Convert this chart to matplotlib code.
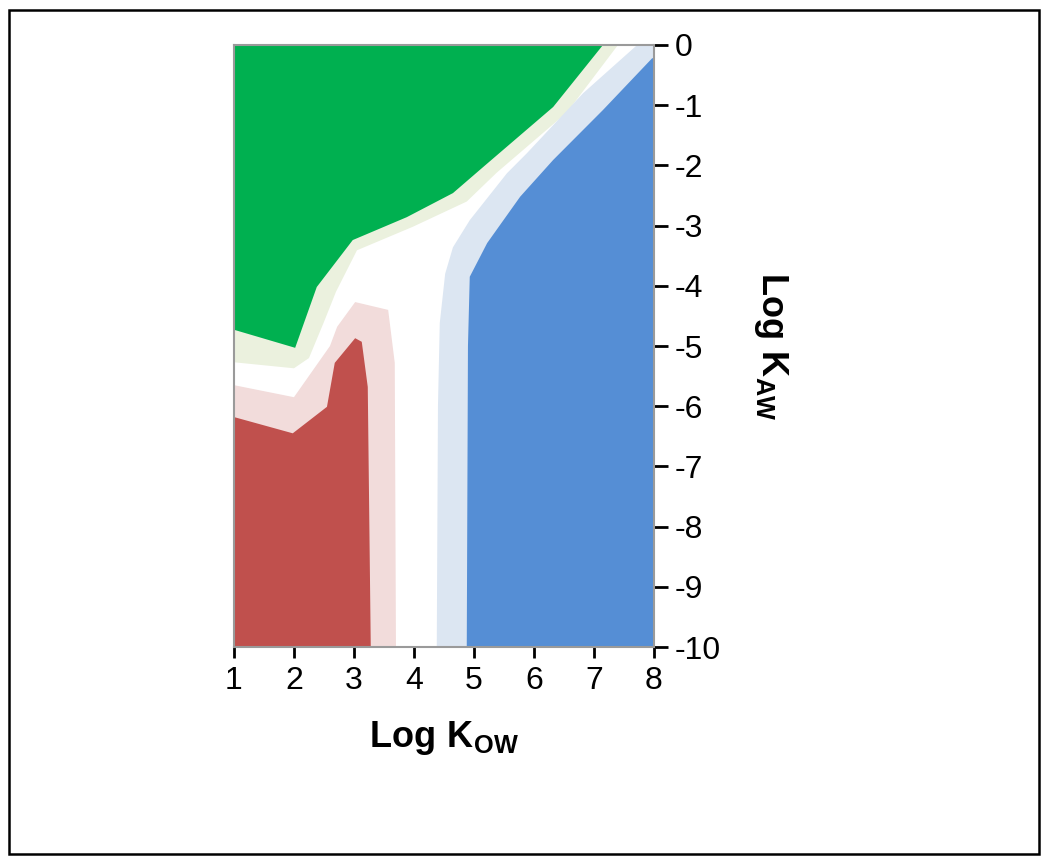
import numpy as np
import matplotlib.pyplot as plt
import matplotlib.patches as mpatches

plt.rcParams['font.family'] = ['Liberation Sans', 'DejaVu Sans']
plt.rcParams['mathtext.fontset'] = 'custom'
plt.rcParams['mathtext.rm'] = 'Liberation Sans'
plt.rcParams['mathtext.bf'] = 'Liberation Sans:bold'

# axis ranges
x_ticks = [1, 2, 3, 4, 5, 6, 7, 8]
y_ticks = [0, -1, -2, -3, -4, -5, -6, -7, -8, -9, -10]

# region boundaries (Log Kow, Log Kaw)
green_band_x = [1.0, 2.0, 2.25, 2.5, 2.7, 3.05, 3.98, 4.88, 5.38, 6.55, 7.4]
green_band_y = [-5.27, -5.37, -5.2, -4.6, -4.1, -3.41, -3.02, -2.6, -2.12, -1.12, 0.0]
green_x = [1.0, 2.02, 2.38, 2.98, 3.88, 4.65, 5.15, 6.32, 7.15]
green_y = [-4.73, -5.03, -4.02, -3.24, -2.86, -2.46, -2.03, -1.03, 0.0]

red_band_x = [1.0, 2.0, 2.6, 2.72, 3.02, 3.57, 3.68, 3.70]
red_band_y = [-5.65, -5.85, -5.0, -4.68, -4.27, -4.40, -5.28, -10.0]
red_x = [1.0, 1.98, 2.55, 2.68, 3.02, 3.13, 3.23, 3.28]
red_y = [-6.18, -6.45, -6.01, -5.28, -4.87, -4.93, -5.68, -10.0]

blue_band_x = [4.38, 4.40, 4.43, 4.52, 4.65, 4.93, 5.55, 5.88, 6.82, 7.72]
blue_band_y = [-10.0, -6.0, -4.62, -3.8, -3.36, -2.91, -2.13, -1.80, -0.80, 0.0]
blue_x = [4.88, 4.90, 4.93, 5.22, 5.77, 6.32, 7.15, 7.97]
blue_y = [-10.0, -5.0, -3.85, -3.29, -2.52, -1.91, -1.08, -0.22]

colors = {
    'green': '#00B050', 'green_band': '#EBF1DE',
    'red': '#C0504D', 'red_band': '#F2DCDB',
    'blue': '#558ED5', 'blue_band': '#DCE6F2',
}

xmin, xmax = x_ticks[0], x_ticks[-1]
ymin, ymax = y_ticks[-1], y_ticks[0]

fig = plt.figure(figsize=(10.44, 8.57), dpi=100)
ax = fig.add_axes([0.2241, 0.245, 0.4023, 0.7025])

# green: above boundary up to top edge
for bx, by, c in [(green_band_x, green_band_y, 'green_band'), (green_x, green_y, 'green')]:
    px = [xmin] + bx + [xmin]
    py = [ymax] + by + [ymax]
    ax.fill(px, py, color=colors[c], lw=0)

# red: below/left of boundary down to bottom edge
for bx, by, c in [(red_band_x, red_band_y, 'red_band'), (red_x, red_y, 'red')]:
    px = bx + [xmin]
    py = by + [ymin]
    ax.fill(px, py, color=colors[c], lw=0)

# blue: right of boundary to right edge
for bx, by, c in [(blue_band_x, blue_band_y, 'blue_band'), (blue_x, blue_y, 'blue')]:
    px = bx + [xmax, xmax]
    py = by + [by[-1], ymin]
    ax.fill(px, py, color=colors[c], lw=0)

ax.set_xlim(xmin, xmax)
ax.set_ylim(ymin, ymax)
ax.set_xticks(x_ticks)
ax.set_yticks(y_ticks)
ax.set_yticklabels([str(v) for v in y_ticks])
ax.yaxis.tick_right()
ax.yaxis.set_label_position('right')
ax.tick_params(axis='x', direction='out', length=8, width=2, labelsize=23, pad=6)
ax.tick_params(axis='y', direction='out', length=10, width=2, labelsize=23, pad=5)
for s in ax.spines.values():
    s.set_color('#9a9a9a')
    s.set_linewidth(1.5)
    s.set_linestyle((0, (1, 1)))

ax.set_xlabel(r'$\mathbf{Log\ K_{OW}}$', fontsize=26, labelpad=16)
ax.set_ylabel(r'$\mathbf{Log\ K_{AW}}$', fontsize=26, rotation=270, labelpad=50)

# outer frame around the figure
fig.patches.append(mpatches.Rectangle((9 / 1044, 3 / 857), 1030 / 1044, 844 / 857,
                                      transform=fig.transFigure, fill=False,
                                      edgecolor='black', linewidth=1.8))

plt.savefig('out.png', dpi=100)
